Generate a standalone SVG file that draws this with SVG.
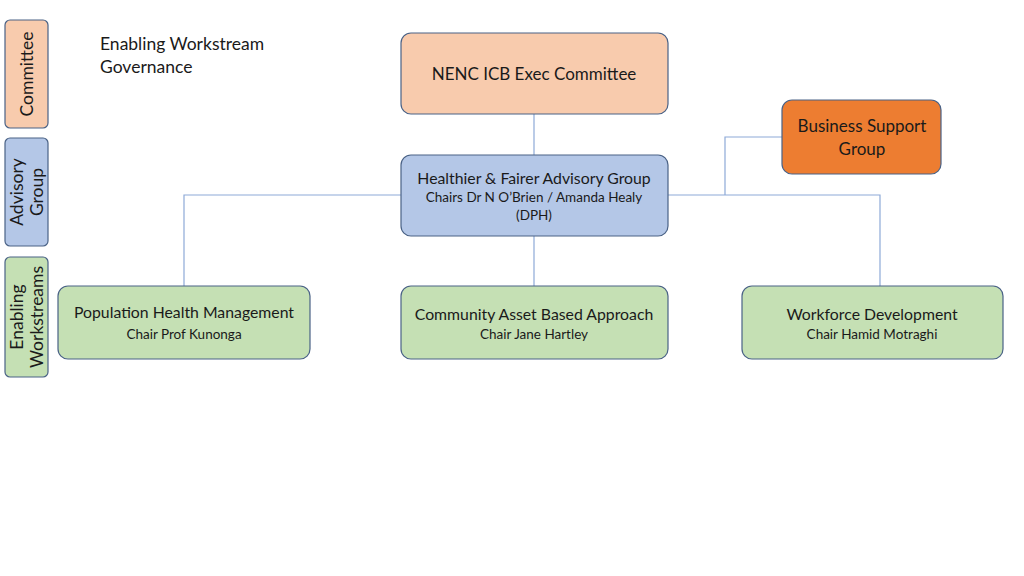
<svg xmlns="http://www.w3.org/2000/svg" width="1024" height="576" viewBox="0 0 1024 576">
<style>
text{font-family:Lato,"Open Sans","Liberation Sans",sans-serif;fill:#1a1a1a;text-anchor:middle}
.b{stroke:#4a6286;stroke-width:1.2}
.c{fill:none;stroke:#8eaad8;stroke-width:1.2}
.t1{font-size:17px}
.t3{font-size:15.8px}
.t2{font-size:13.5px}
.s{font-size:17.5px}
.h{font-size:17.5px;text-anchor:start}
</style>
<rect width="1024" height="576" fill="#fff"/>
<g id="side-committee"><rect class="b" x="5" y="20" width="43" height="108" rx="5" fill="#f8cbad"/><text class="s" transform="translate(33,74) rotate(-90)">Committee</text></g>
<g id="side-advisory"><rect class="b" x="5" y="138" width="43" height="108" rx="5" fill="#b4c7e7"/><text class="s" transform="translate(23,192) rotate(-90)">Advisory</text><text class="s" transform="translate(43,192) rotate(-90)">Group</text></g>
<g id="side-enabling"><rect class="b" x="5" y="257" width="43" height="120" rx="5" fill="#c5e0b4"/><text class="s" transform="translate(23,317) rotate(-90)">Enabling</text><text class="s" transform="translate(43,317) rotate(-90)">Workstreams</text></g>
<g id="title"><text class="h" x="100" y="50">Enabling Workstream</text><text class="h" x="100" y="73">Governance</text></g>
<g id="connectors">
<path class="c" d="M534 114V155M534 236V286M401 195H184V286M668 195H880V286M782 137H725V195"/>
</g>
<g id="nenc"><rect class="b" x="401" y="33" width="267" height="81" rx="10" fill="#f8cbad"/><text class="t1" x="534" y="80">NENC ICB Exec Committee</text></g>
<g id="advisory"><rect class="b" x="401" y="155" width="267" height="81" rx="10" fill="#b4c7e7"/><text class="t3" x="534" y="184">Healthier &amp; Fairer Advisory Group</text><text class="t2" x="534" y="202">Chairs Dr N O’Brien / Amanda Healy</text><text class="t2" x="534" y="220">(DPH)</text></g>
<g id="business"><rect class="b" x="782" y="100" width="159" height="74" rx="10" fill="#ed7d31"/><text class="t1" x="862" y="132">Business Support</text><text class="t1" x="862" y="155">Group</text></g>
<g id="phm"><rect class="b" x="58" y="286" width="252" height="73" rx="10" fill="#c5e0b4"/><text class="t3" x="184" y="318">Population Health Management</text><text class="t2" x="184" y="339">Chair Prof Kunonga</text></g>
<g id="caba"><rect class="b" x="401" y="286" width="267" height="73" rx="10" fill="#c5e0b4"/><text class="t3" x="534" y="320">Community Asset Based Approach</text><text class="t2" x="534" y="339">Chair Jane Hartley</text></g>
<g id="wd"><rect class="b" x="742" y="286" width="261" height="73" rx="10" fill="#c5e0b4"/><text class="t3" x="872" y="320">Workforce Development</text><text class="t2" x="872" y="339">Chair Hamid Motraghi</text></g>
</svg>
